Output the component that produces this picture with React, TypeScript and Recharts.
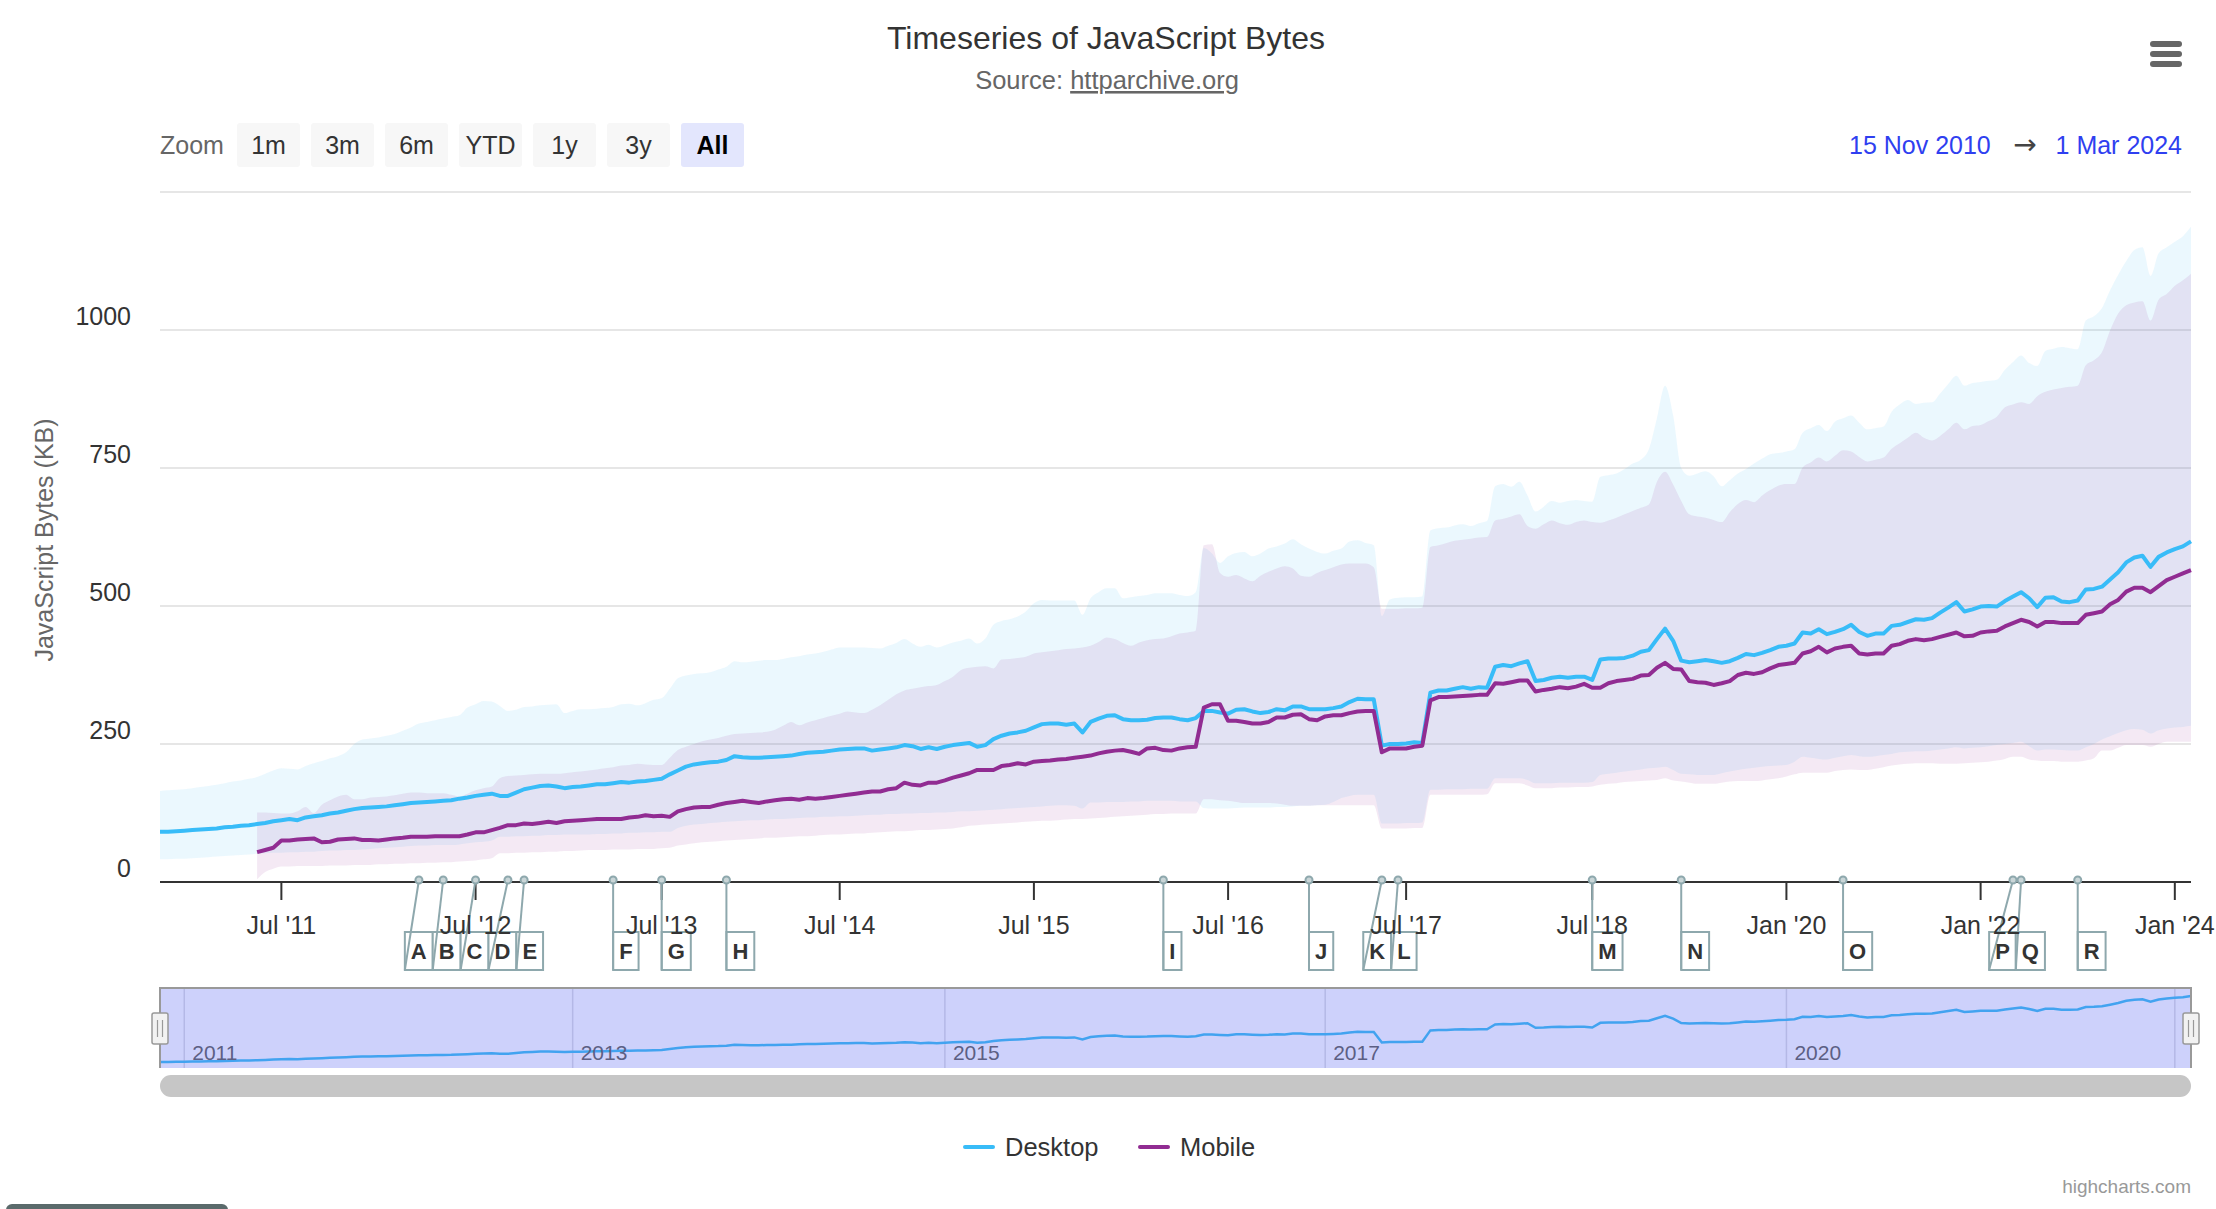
import React from 'react';
import {
  ComposedChart,
  LineChart,
  Line,
  Area,
  XAxis,
  YAxis,
  CartesianGrid,
  ReferenceDot,
  ReferenceLine,
} from 'recharts';

// ---------------- DATA ----------------
const DATES: string[] = [
  '2010-11-15', '2010-12-01', '2010-12-15',
  '2011-01-01', '2011-01-15', '2011-02-01', '2011-02-15', '2011-03-01', '2011-03-15', '2011-04-01', '2011-04-15', '2011-05-01', '2011-05-15', '2011-06-01', '2011-06-15',
  '2011-07-01', '2011-07-15', '2011-08-01', '2011-08-15', '2011-09-01', '2011-09-15', '2011-10-01', '2011-10-15', '2011-11-01', '2011-11-15', '2011-12-01', '2011-12-15',
  '2012-01-01', '2012-01-15', '2012-02-01', '2012-02-15', '2012-03-01', '2012-03-15', '2012-04-01', '2012-04-15', '2012-05-01', '2012-05-15', '2012-06-01', '2012-06-15',
  '2012-07-01', '2012-07-15', '2012-08-01', '2012-08-15', '2012-09-01', '2012-09-15', '2012-10-01', '2012-10-15', '2012-11-01', '2012-11-15', '2012-12-01', '2012-12-15',
  '2013-01-01', '2013-01-15', '2013-02-01', '2013-02-15', '2013-03-01', '2013-04-01', '2013-04-15', '2013-05-01', '2013-05-15', '2013-06-01', '2013-06-15',
  '2013-07-01', '2013-07-15', '2013-08-01', '2013-08-15', '2013-09-01', '2013-09-15', '2013-10-01', '2013-10-15', '2013-11-01', '2013-11-15', '2013-12-01', '2013-12-15',
  '2014-01-01', '2014-01-15', '2014-02-01', '2014-03-01', '2014-03-15', '2014-04-01', '2014-05-01', '2014-05-15', '2014-06-01', '2014-06-15',
  '2014-07-01', '2014-07-15', '2014-08-01', '2014-08-15', '2014-09-01', '2014-09-15', '2014-10-01', '2014-10-15', '2014-11-01', '2014-11-15', '2014-12-01', '2014-12-15',
  '2015-01-01', '2015-01-15', '2015-02-01', '2015-02-15', '2015-03-01', '2015-03-15', '2015-04-01', '2015-04-15', '2015-05-01', '2015-05-15', '2015-06-01', '2015-06-15',
  '2015-07-01', '2015-07-15', '2015-08-01', '2015-08-15', '2015-09-01', '2015-09-15', '2015-10-01', '2015-10-15', '2015-11-01', '2015-11-15', '2015-12-01', '2015-12-15',
  '2016-01-01', '2016-01-15', '2016-02-01', '2016-02-15', '2016-03-01', '2016-03-15', '2016-04-01', '2016-04-15', '2016-05-01', '2016-05-15', '2016-06-01', '2016-06-15',
  '2016-07-01', '2016-07-15', '2016-08-01', '2016-08-15', '2016-09-01', '2016-09-15', '2016-10-01', '2016-10-15', '2016-11-01', '2016-11-15', '2016-12-01', '2016-12-15',
  '2017-01-01', '2017-02-01', '2017-03-01', '2017-03-15', '2017-04-01', '2017-04-15', '2017-05-01', '2017-05-15', '2017-06-01', '2017-06-15',
  '2017-07-01', '2017-07-15', '2017-08-01', '2017-08-15', '2017-09-01', '2017-09-15', '2017-10-01', '2017-10-15', '2017-11-01', '2017-11-15', '2017-12-01', '2017-12-15',
  '2018-01-01', '2018-02-01', '2018-02-15', '2018-03-01', '2018-03-15', '2018-04-01', '2018-04-15', '2018-05-01', '2018-05-15', '2018-06-01', '2018-06-15',
  '2018-07-01', '2018-07-15', '2018-08-01', '2018-08-15', '2018-09-01', '2018-09-15', '2018-10-01', '2018-10-15', '2018-11-01', '2018-11-15', '2018-12-01', '2018-12-15',
  '2019-01-01', '2019-02-01', '2019-03-01', '2019-04-01', '2019-05-01', '2019-06-01', '2019-07-01', '2019-08-01', '2019-09-01', '2019-10-01', '2019-11-01', '2019-12-01',
  '2020-01-01', '2020-02-01', '2020-03-01', '2020-04-01', '2020-05-01', '2020-06-01', '2020-07-01', '2020-08-01', '2020-09-01', '2020-10-01', '2020-11-01', '2020-12-01',
  '2021-01-01', '2021-02-01', '2021-03-01', '2021-04-01', '2021-05-01', '2021-06-01', '2021-07-01', '2021-08-01', '2021-09-01', '2021-10-01', '2021-11-01', '2021-12-01',
  '2022-01-01', '2022-02-01', '2022-03-01', '2022-04-01', '2022-05-01', '2022-06-01', '2022-07-01', '2022-08-01', '2022-09-01', '2022-10-01', '2022-11-01', '2022-12-01',
  '2023-01-01', '2023-02-01', '2023-03-01', '2023-04-01', '2023-05-01', '2023-06-01', '2023-07-01', '2023-08-01', '2023-09-01', '2023-10-01', '2023-11-01', '2023-12-01',
  '2024-01-01', '2024-02-01', '2024-03-01',
];

// median JavaScript bytes (KB)
const DESKTOP_KB: number[] = [
  91, 91, 92, 93, 94, 95, 96, 97, 99, 100,
  102, 103, 105, 107, 110, 112, 114, 112, 117, 119,
  121, 124, 126, 129, 132, 134, 135, 136, 137, 139,
  141, 143, 144, 145, 146, 147, 148, 151, 153, 156,
  158, 160, 156, 156, 162, 168, 171, 174, 175, 173,
  170, 172, 173, 175, 177, 177, 179, 181, 180, 182,
  183, 185, 187, 195, 202, 209, 213, 215, 217, 218,
  221, 228, 226, 225, 225, 226, 227, 228, 229, 232,
  234, 235, 236, 238, 240, 241, 242, 242, 238, 240,
  242, 244, 248, 246, 241, 244, 241, 245, 248, 250,
  252, 245, 248, 259, 265, 269, 271, 274, 280, 286,
  287, 287, 285, 287, 271, 290, 296, 301, 302, 295,
  293, 293, 294, 297, 298, 298, 295, 293, 297, 310,
  310, 307, 305, 312, 313, 309, 306, 308, 313, 311,
  318, 318, 313, 313, 313, 315, 318, 326, 332, 331,
  331, 247, 250, 250, 251, 253, 252, 343, 347, 347,
  350, 353, 350, 353, 352, 390, 393, 391, 396, 400,
  364, 366, 370, 372, 370, 372, 372, 366, 403, 405,
  405, 406, 410, 417, 420, 440, 459, 437, 401, 398,
  400, 402, 400, 397, 400, 406, 413, 411, 415, 420,
  426, 428, 432, 452, 450, 458, 449, 453, 458, 466,
  453, 446, 450, 450, 464, 466, 471, 476, 475, 478,
  488, 497, 507, 490, 494, 499, 500, 499, 509, 517,
  525, 514, 498, 515, 516, 508, 507, 510, 530, 531,
  535, 548, 561, 579, 588, 591, 571, 589, 597, 603, 608, 617,
];

const MOBILE_KB: (number | null)[] = [
  null, null, null, null, null, null, null, null, null, null,
  null, null, 54, 58, 62, 75, 75, 77, 78, 79,
  72, 73, 77, 78, 79, 76, 76, 75, 77, 79,
  80, 82, 82, 82, 83, 83, 83, 83, 86, 90,
  90, 94, 98, 103, 103, 106, 105, 107, 109, 107,
  110, 111, 112, 113, 114, 114, 114, 114, 117, 118,
  121, 119, 120, 118, 128, 132, 135, 136, 136, 140,
  143, 145, 147, 145, 143, 146, 148, 150, 151, 149,
  152, 151, 152, 154, 156, 158, 160, 162, 164, 164,
  168, 170, 180, 176, 175, 180, 180, 184, 189, 193,
  197, 203, 203, 203, 210, 212, 215, 213, 218, 219,
  220, 222, 223, 225, 227, 229, 233, 236, 238, 239,
  236, 232, 242, 243, 239, 238, 242, 244, 245, 316,
  322, 322, 292, 292, 290, 287, 287, 290, 298, 298,
  303, 304, 295, 293, 300, 302, 302, 306, 309, 310,
  310, 235, 242, 242, 242, 245, 247, 329, 335, 335,
  336, 337, 338, 339, 339, 360, 359, 362, 365, 365,
  345, 348, 350, 353, 351, 354, 359, 352, 352, 360,
  364, 366, 368, 374, 375, 388, 397, 386, 385, 364,
  362, 361, 357, 360, 364, 375, 379, 377, 380, 387,
  393, 395, 397, 414, 418, 426, 416, 423, 426, 428,
  414, 412, 414, 414, 428, 431, 437, 440, 438, 440,
  444, 448, 452, 445, 446, 452, 454, 455, 463, 469,
  475, 471, 463, 471, 471, 469, 469, 469, 484, 487,
  490, 503, 511, 526, 533, 533, 525, 536, 547, 553, 559, 565,
];

// lower / upper band of the desktop distribution (KB)
const DESKTOP_LOW: number[] = [
  41, 41, 42, 42, 43, 44, 45, 46, 47, 48,
  49, 50, 51, 52, 53, 53, 54, 54, 55, 55,
  56, 57, 57, 58, 58, 59, 60, 61, 62, 63,
  64, 65, 66, 66, 67, 67, 67, 68, 70, 72,
  73, 75, 82, 82, 83, 83, 84, 84, 85, 85,
  86, 86, 86, 86, 87, 87, 88, 88, 89, 89,
  90, 90, 91, 91, 98, 102, 104, 105, 107, 108,
  109, 110, 111, 112, 112, 113, 114, 114, 115, 116,
  117, 117, 118, 118, 119, 119, 120, 121, 122, 122,
  123, 123, 124, 124, 125, 125, 126, 126, 127, 128,
  128, 129, 130, 131, 132, 133, 134, 135, 136, 137,
  138, 139, 139, 138, 133, 144, 144, 145, 145, 145,
  146, 146, 147, 147, 147, 147, 146, 146, 146, 134,
  133, 133, 133, 134, 135, 135, 135, 135, 136, 136,
  137, 138, 138, 139, 140, 145, 152, 156, 158, 158,
  158, 106, 106, 106, 107, 107, 108, 167, 167, 168,
  168, 168, 169, 169, 169, 188, 188, 188, 188, 185,
  179, 179, 179, 180, 180, 180, 180, 181, 194, 196,
  198, 200, 202, 204, 206, 207, 209, 203, 196, 195,
  194, 194, 194, 197, 200, 203, 205, 207, 209, 210,
  211, 212, 218, 227, 225, 223, 222, 225, 228, 230,
  228, 227, 228, 230, 232, 235, 236, 237, 237, 238,
  240, 242, 244, 242, 243, 244, 246, 248, 250, 252,
  254, 246, 238, 240, 240, 239, 238, 238, 244, 250,
  258, 264, 270, 275, 277, 276, 269, 275, 278, 280, 281, 283,
];

const DESKTOP_HIGH: number[] = [
  165, 166, 167, 168, 170, 172, 174, 176, 179, 182,
  184, 187, 190, 196, 202, 206, 205, 204, 210, 215,
  219, 224, 228, 235, 250, 258, 260, 262, 265, 268,
  274, 280, 287, 290, 293, 296, 299, 302, 316, 322,
  328, 327, 319, 310, 312, 317, 318, 320, 321, 322,
  306, 310, 313, 313, 314, 315, 317, 322, 323, 320,
  324, 330, 333, 350, 369, 374, 377, 378, 380, 385,
  390, 400, 398, 399, 401, 402, 402, 404, 407, 409,
  412, 414, 417, 421, 425, 425, 425, 425, 424, 423,
  428, 433, 440, 432, 426, 430, 425, 429, 434, 437,
  441, 432, 441, 466, 473, 476, 481, 490, 505, 511,
  510, 510, 510, 510, 484, 514, 525, 532, 532, 514,
  516, 518, 520, 523, 523, 523, 520, 518, 525, 605,
  595, 578, 590, 596, 598, 590, 595, 604, 608, 613,
  621, 612, 604, 598, 595, 600, 604, 617, 619, 614,
  610, 482, 512, 515, 516, 516, 517, 637, 641, 642,
  646, 648, 645, 650, 654, 717, 721, 716, 725, 700,
  671, 680, 690, 687, 690, 692, 690, 689, 734, 737,
  740, 748, 758, 765, 784, 840, 899, 845, 750, 736,
  740, 744, 735, 717, 728, 740, 748, 758, 767, 775,
  777, 780, 784, 814, 822, 828, 817, 834, 840, 845,
  832, 820, 822, 825, 852, 865, 873, 866, 868, 869,
  885, 902, 917, 899, 904, 906, 908, 910, 928, 942,
  954, 940, 935, 962, 966, 969, 967, 965, 1017, 1025,
  1040, 1072, 1100, 1125, 1145, 1150, 1098, 1139, 1150, 1160, 1170, 1187,
];

// lower / upper band of the mobile distribution (KB)
const MOBILE_LOW: (number | null)[] = [
  null, null, null, null, null, null, null, null, null, null,
  null, null, 5, 18, 24, 28, 28, 29, 29, 29,
  29, 30, 30, 30, 31, 31, 31, 32, 32, 33,
  33, 34, 34, 35, 35, 36, 36, 37, 38, 39,
  41, 43, 52, 52, 53, 53, 54, 54, 55, 55,
  56, 56, 57, 58, 58, 58, 59, 59, 59, 60,
  60, 60, 61, 62, 66, 68, 70, 72, 73, 74,
  75, 76, 77, 78, 79, 80, 80, 81, 82, 83,
  83, 84, 85, 86, 86, 87, 88, 88, 89, 90,
  91, 92, 92, 93, 94, 94, 95, 96, 97, 99,
  102, 103, 104, 105, 106, 107, 108, 109, 110, 111,
  111, 112, 113, 114, 114, 115, 116, 117, 118, 119,
  120, 121, 122, 123, 123, 124, 124, 124, 124, 150,
  150, 148, 147, 145, 143, 143, 143, 143, 142, 140,
  138, 138, 138, 139, 139, 139, 139, 139, 139, 139,
  139, 97, 97, 97, 97, 98, 98, 158, 158, 158,
  158, 158, 158, 158, 159, 179, 179, 179, 179, 175,
  170, 170, 170, 171, 171, 172, 172, 173, 176, 178,
  179, 181, 182, 183, 184, 185, 188, 184, 182, 180,
  178, 178, 178, 180, 182, 183, 183, 183, 184, 186,
  188, 191, 195, 198, 198, 198, 198, 201, 203, 204,
  203, 203, 205, 208, 211, 213, 214, 215, 215, 215,
  214, 214, 214, 215, 216, 217, 218, 220, 223, 227,
  227, 222, 220, 219, 219, 218, 218, 218, 220, 224,
  238, 238, 243, 248, 248, 248, 245, 250, 254, 254, 254, 254,
];

const MOBILE_HIGH: (number | null)[] = [
  null, null, null, null, null, null, null, null, null, null,
  null, null, 126, 126, 125, 124, 124, 128, 136, 125,
  140, 148, 155, 158, 150, 150, 153, 154, 155, 157,
  160, 162, 162, 161, 161, 161, 158, 155, 160, 166,
  170, 173, 188, 192, 193, 194, 195, 196, 196, 196,
  197, 199, 200, 202, 204, 206, 208, 211, 212, 214,
  213, 212, 212, 225, 239, 245, 250, 255, 258, 261,
  265, 268, 269, 270, 271, 272, 276, 283, 290, 284,
  289, 293, 297, 301, 305, 309, 307, 306, 312, 320,
  330, 340, 347, 350, 353, 355, 357, 364, 372, 384,
  388, 390, 391, 387, 403, 404, 406, 408, 414, 416,
  418, 420, 422, 423, 425, 428, 435, 443, 440, 433,
  428, 434, 438, 440, 441, 445, 450, 452, 455, 610,
  612, 560, 553, 556, 550, 545, 555, 562, 568, 572,
  568, 555, 553, 560, 565, 570, 575, 577, 577, 577,
  570, 495, 495, 495, 496, 496, 497, 607, 610, 614,
  618, 620, 622, 624, 625, 655, 658, 662, 666, 645,
  640, 648, 655, 650, 647, 652, 655, 652, 651, 655,
  660, 666, 672, 678, 684, 725, 743, 720, 690, 666,
  662, 660, 656, 652, 670, 685, 692, 688, 700, 710,
  718, 721, 721, 751, 760, 769, 762, 772, 782, 780,
  770, 762, 765, 769, 785, 795, 805, 814, 805, 800,
  808, 820, 832, 820, 826, 828, 835, 843, 860, 865,
  869, 866, 880, 888, 892, 895, 897, 899, 936, 945,
  960, 999, 1030, 1045, 1050, 1052, 1017, 1055, 1065, 1080, 1090, 1102,
];

const Y_TICKS = [0, 250, 500, 750, 1000, 1250];
const Y_LABELED_MAX = 1000;

const X_TICK_DATES = ['2011-07-01', '2012-07-01', '2013-07-01', '2014-07-01', '2015-07-01', '2016-07-01', '2017-07-01', '2018-07-01', '2020-01-01', '2022-01-01', '2024-01-01'];
const X_TICK_LABELS = ["Jul '11", "Jul '12", "Jul '13", "Jul '14", "Jul '15", "Jul '16", "Jul '17", "Jul '18", "Jan '20", "Jan '22", "Jan '24"];

const NAV_YEAR_DATES = ['2011-01-01', '2013-01-01', '2015-01-15', '2017-01-01', '2020-01-01', '2024-01-01'];
const NAV_YEAR_LABELS = ['2011', '2013', '2015', '2017', '2020', '2024'];

const FLAG_DATES = ['2012-03-15', '2012-05-01', '2012-07-01', '2012-09-01', '2012-10-01', '2013-04-01', '2013-07-01', '2013-11-01', '2016-03-01', '2016-12-01', '2017-05-15', '2017-06-15', '2018-07-01', '2018-12-15', '2020-08-01', '2022-05-01', '2022-06-01', '2023-01-01'];
const FLAG_LETTERS = ['A', 'B', 'C', 'D', 'E', 'F', 'G', 'H', 'I', 'J', 'K', 'L', 'M', 'N', 'O', 'P', 'Q', 'R'];

const ZOOM_BUTTONS = ['1m', '3m', '6m', 'YTD', '1y', '3y', 'All'];
const SELECTED_ZOOM = 'All';
const RANGE_FROM = '15 Nov 2010';
const RANGE_TO = '1 Mar 2024';

const SERIES_NAMES = ['Desktop', 'Mobile'];

// ---------------- STYLE / LAYOUT ----------------
const FONT = '"Liberation Sans", Arial, Helvetica, sans-serif';
const DESKTOP_COLOR = '#38bcf8';
const MOBILE_COLOR = '#912c92';
const FLAG_STROKE = '#8ea8ad';

const W = 2216;
const H = 1209;
const CHART_H = 1000;
const PLOT_LEFT = 160;
const PLOT_RIGHT = 2191;
const PLOT_TOP = 192;
const PLOT_BOTTOM = 882;
const Y_AXIS_W = 100;
const X_AXIS_H = 60;
const NAV_TOP = 988;
const NAV_H = 80;

const N = DATES.length;
const PX_PER_IDX = (PLOT_RIGHT - PLOT_LEFT) / (N - 1);

const rows = DATES.map((d, i) => ({
  i,
  date: d,
  desktop: DESKTOP_KB[i],
  mobile: MOBILE_KB[i],
  dBand: [DESKTOP_LOW[i], DESKTOP_HIGH[i]],
  mBand: MOBILE_LOW[i] == null || MOBILE_HIGH[i] == null ? null : [MOBILE_LOW[i], MOBILE_HIGH[i]],
}));

const xTicks = X_TICK_DATES.map((d) => DATES.indexOf(d));
const xLabelFor = (v: number) => {
  const k = xTicks.indexOf(v);
  return k >= 0 ? X_TICK_LABELS[k] : '';
};

// bold glyph widths (em) for flag box sizing
const BOLD_W: Record<string, number> = {
  A: 0.722, B: 0.722, C: 0.722, D: 0.722, E: 0.667, F: 0.611, G: 0.778, H: 0.722, I: 0.278,
  J: 0.556, K: 0.722, L: 0.611, M: 0.833, N: 0.722, O: 0.778, P: 0.667, Q: 0.778, R: 0.722,
};
const FLAG_FONT = 22;

function layoutFlags() {
  const items = FLAG_DATES.map((d, k) => {
    const idx = DATES.indexOf(d);
    const letter = FLAG_LETTERS[k];
    return {
      letter,
      idx,
      x: PLOT_LEFT + idx * PX_PER_IDX,
      w: (BOLD_W[letter] || 0.72) * FLAG_FONT + 12,
    };
  }).sort((a, b) => a.x - b.x);
  let groups = items.map((it) => ({ members: [it], size: it.w, pos: it.x }));
  let changed = true;
  while (changed) {
    changed = false;
    for (let i = 1; i < groups.length; i++) {
      const a = groups[i - 1];
      const b = groups[i];
      if (a.pos + a.size + 4 > b.pos) {
        const members = [...a.members, ...b.members];
        const size = a.size + b.size;
        const target = members.reduce((s, m) => s + m.x, 0) / members.length;
        groups.splice(i - 1, 2, { members, size, pos: target - size / 2 });
        changed = true;
        break;
      }
    }
  }
  const out: any[] = [];
  groups.forEach((g) => {
    let p = g.pos;
    g.members.forEach((m) => {
      out.push({ ...m, boxX: p });
      p += m.w;
    });
  });
  return out;
}
const FLAGS = layoutFlags();

// ---------------- COMPONENTS ----------------
const XTick = (props: any) => {
  const { x, y, payload } = props;
  return (
    <text x={x} y={y + 34} textAnchor="middle" fontSize={25} fill="#333" fontFamily={FONT}>
      {xLabelFor(payload.value)}
    </text>
  );
};

const YTick = (props: any) => {
  const { x, y, payload } = props;
  if (payload.value > Y_LABELED_MAX) return <g />;
  return (
    <text x={x - 29} y={y - 5} textAnchor="end" fontSize={25} fill="#333" fontFamily={FONT}>
      {payload.value}
    </text>
  );
};

const FlagShape = (props: any) => {
  const { cx, cy, f } = props;
  if (cx == null || cy == null) return <g />;
  const left = cx + (f.boxX - f.x);
  const top = cy + 50;
  const h = 38;
  const bottom = top + h;
  return (
    <g>
      <rect x={left} y={top} width={f.w} height={h} fill="#ffffff" stroke={FLAG_STROKE} strokeWidth={2} />
      <line x1={cx} y1={cy - 2} x2={left} y2={bottom} stroke={FLAG_STROKE} strokeWidth={2} />
      <circle cx={cx} cy={cy - 2} r={3.5} fill="#c9d5d7" stroke={FLAG_STROKE} strokeWidth={2} />
      <text x={left + f.w / 2} y={top + 27} textAnchor="middle" fontSize={FLAG_FONT} fontWeight="bold" fill="#333" fontFamily={FONT}>
        {f.letter}
      </text>
    </g>
  );
};

const NavYearLabel = (props: any) => {
  const { cx, cy, label } = props;
  if (cx == null || cx + 50 > PLOT_RIGHT) return <g />;
  return (
    <text x={cx + 8} y={cy - 8} fontSize={21} fill="#5c5f84" fontFamily={FONT}>
      {label}
    </text>
  );
};

export default function App() {
  const btnX0 = 237;
  const btnStep = 74;
  return (
    <div style={{ position: 'absolute', left: 0, top: 0, width: W, height: H, background: '#fff', fontFamily: FONT, overflow: 'hidden' }}>
      {/* underlay: texts, buttons, navigator background, scrollbar, legend */}
      <svg width={W} height={H} style={{ position: 'absolute', left: 0, top: 0 }} fontFamily={FONT}>
        <text x={1106} y={49} textAnchor="middle" fontSize={32} fill="#333">Timeseries of JavaScript Bytes</text>
        <text x={1107} y={89} textAnchor="middle" fontSize={25.5} fill="#666">
          Source: <tspan textDecoration="underline" style={{ textDecoration: 'underline' }}>httparchive.org</tspan>
        </text>

        <text x={160} y={154} fontSize={25} fill="#666">Zoom</text>
        {ZOOM_BUTTONS.map((b, k) => {
          const x = btnX0 + k * btnStep;
          const sel = b === SELECTED_ZOOM;
          return (
            <g key={b}>
              <rect x={x} y={123} width={63} height={44} rx={3} fill={sel ? '#e3e6fd' : '#f7f7f7'} />
              <text x={x + 31.5} y={154} textAnchor="middle" fontSize={25} fill={sel ? '#000' : '#333'} fontWeight={sel ? 'bold' : 'normal'}>{b}</text>
            </g>
          );
        })}

        <text x={1849} y={154} fontSize={25} fill="#2f3ff0">{RANGE_FROM}</text>
        <text x={2025} y={154} textAnchor="middle" fontSize={28} fill="#444" fontFamily='"DejaVu Sans", sans-serif'>→</text>
        <text x={2182} y={154} textAnchor="end" fontSize={25} fill="#2f3ff0">{RANGE_TO}</text>

        <rect x={2150} y={41} width={32} height={6} rx={3} fill="#666" />
        <rect x={2150} y={51} width={32} height={6} rx={3} fill="#666" />
        <rect x={2150} y={61} width={32} height={6} rx={3} fill="#666" />

        <text x={44} y={540} textAnchor="middle" dominantBaseline="central" fontSize={25} fill="#666" transform="rotate(-90 44 540)">
          JavaScript Bytes (KB)
        </text>

        <rect x={PLOT_LEFT} y={NAV_TOP} width={PLOT_RIGHT - PLOT_LEFT} height={NAV_H} fill="#cdd1fb" />
        <rect x={PLOT_LEFT} y={1075} width={PLOT_RIGHT - PLOT_LEFT} height={22} rx={11} fill="#c6c6c6" />

        <line x1={965} y1={1147} x2={993} y2={1147} stroke={DESKTOP_COLOR} strokeWidth={4} strokeLinecap="round" />
        <text x={1005} y={1156} fontSize={25.5} fill="#333">{SERIES_NAMES[0]}</text>
        <line x1={1140} y1={1147} x2={1168} y2={1147} stroke={MOBILE_COLOR} strokeWidth={4} strokeLinecap="round" />
        <text x={1180} y={1156} fontSize={25.5} fill="#333">{SERIES_NAMES[1]}</text>

        <text x={PLOT_RIGHT} y={1193} textAnchor="end" fontSize={19} fill="#999">highcharts.com</text>

        <rect x={6} y={1204} width={222} height={12} rx={6} fill="#5a6a6b" />
      </svg>

      {/* main chart */}
      <div style={{ position: 'absolute', left: 0, top: 0 }}>
        <ComposedChart
          width={W}
          height={CHART_H}
          data={rows}
          margin={{ top: PLOT_TOP, right: W - PLOT_RIGHT, bottom: CHART_H - PLOT_BOTTOM - X_AXIS_H, left: PLOT_LEFT - Y_AXIS_W }}
        >
          <CartesianGrid horizontal vertical={false} stroke="#e6e6e6" strokeWidth={2} />
          <XAxis
            dataKey="i"
            type="number"
            domain={[0, N - 1]}
            ticks={xTicks}
            interval={0}
            height={X_AXIS_H}
            tickSize={18}
            tickMargin={0}
            axisLine={{ stroke: '#333', strokeWidth: 2 }}
            tickLine={{ stroke: '#333', strokeWidth: 2 }}
            tick={<XTick />}
          />
          <YAxis
            type="number"
            domain={[0, 1250]}
            ticks={Y_TICKS}
            interval={0}
            width={Y_AXIS_W}
            axisLine={false}
            tickLine={false}
            tickSize={0}
            tickMargin={0}
            tick={<YTick />}
          />
          <Area
            dataKey="dBand"
            type="monotone"
            fill={DESKTOP_COLOR}
            fillOpacity={0.1}
            stroke="none"
            isAnimationActive={false}
            activeDot={false}
            dot={false}
          />
          <Area
            dataKey="mBand"
            type="monotone"
            fill={MOBILE_COLOR}
            fillOpacity={0.1}
            stroke="none"
            isAnimationActive={false}
            activeDot={false}
            dot={false}
          />
          <Line
            dataKey="desktop"
            type="linear"
            stroke={DESKTOP_COLOR}
            strokeWidth={4}
            strokeLinejoin="round"
            dot={false}
            activeDot={false}
            isAnimationActive={false}
          />
          <Line
            dataKey="mobile"
            type="linear"
            stroke={MOBILE_COLOR}
            strokeWidth={4}
            strokeLinejoin="round"
            dot={false}
            activeDot={false}
            isAnimationActive={false}
          />
          {FLAGS.map((f) => (
            <ReferenceDot
              key={f.letter}
              x={f.idx}
              y={0}
              ifOverflow="visible"
              shape={(p: any) => <FlagShape {...p} f={f} />}
            />
          ))}
        </ComposedChart>
      </div>

      {/* navigator */}
      <div style={{ position: 'absolute', left: 0, top: NAV_TOP }}>
        <LineChart width={W} height={NAV_H} data={rows} margin={{ top: 0, right: W - PLOT_RIGHT, bottom: 0, left: PLOT_LEFT }}>
          <XAxis dataKey="i" type="number" domain={[0, N - 1]} hide />
          <YAxis type="number" domain={[43, 681]} hide width={0} />
          {NAV_YEAR_DATES.map((d) => (
            <ReferenceLine key={d} x={DATES.indexOf(d)} stroke="#b4b8e6" strokeWidth={1.5} ifOverflow="visible" />
          ))}
          <Area
            dataKey="desktop"
            type="linear"
            fill="#5a7fe0"
            fillOpacity={0.06}
            stroke="none"
            isAnimationActive={false}
            activeDot={false}
            dot={false}
          />
          <Line
            dataKey="desktop"
            type="linear"
            stroke="#42a3f0"
            strokeWidth={2.5}
            dot={false}
            activeDot={false}
            isAnimationActive={false}
          />
          {NAV_YEAR_DATES.map((d, k) => (
            <ReferenceDot
              key={'l' + d}
              x={DATES.indexOf(d)}
              y={43}
              ifOverflow="visible"
              shape={(p: any) => <NavYearLabel {...p} label={NAV_YEAR_LABELS[k]} />}
            />
          ))}
        </LineChart>
      </div>

      {/* overlay: navigator outline and handles */}
      <svg width={W} height={H} style={{ position: 'absolute', left: 0, top: 0, pointerEvents: 'none' }}>
        <path d={`M${PLOT_LEFT},${NAV_TOP + NAV_H} V${NAV_TOP} H${PLOT_RIGHT} V${NAV_TOP + NAV_H}`} fill="none" stroke="#999" strokeWidth={2} />
        {[PLOT_LEFT, PLOT_RIGHT].map((hx) => (
          <g key={hx}>
            <rect x={hx - 8} y={1013} width={16} height={31} rx={2} fill="#f2f2f2" stroke="#999" strokeWidth={1.5} />
            <line x1={hx - 2.5} y1={1020} x2={hx - 2.5} y2={1037} stroke="#999" strokeWidth={1.2} />
            <line x1={hx + 2.5} y1={1020} x2={hx + 2.5} y2={1037} stroke="#999" strokeWidth={1.2} />
          </g>
        ))}
      </svg>
    </div>
  );
}
